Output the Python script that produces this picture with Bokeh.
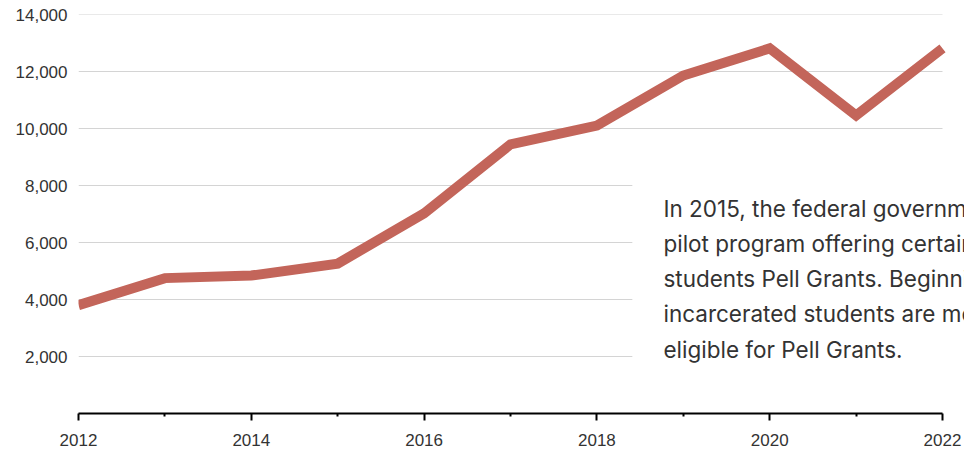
from bokeh.plotting import figure
from bokeh.models import (FixedTicker, NumeralTickFormatter, Label, BoxAnnotation, Range1d)
from bokeh.embed import file_html
from bokeh.resources import INLINE

years = [2012, 2013, 2014, 2015, 2016, 2017, 2018, 2019, 2020, 2021, 2022]
students = [3800, 4750, 4840, 5260, 7020, 9440, 10100, 11860, 12810, 10460, 12810]
y_ticks = [2000, 4000, 6000, 8000, 10000, 12000, 14000]
x_major = [2012, 2014, 2016, 2018, 2020, 2022]
x_minor = [2013, 2015, 2017, 2019, 2021]
note_lines = [
    "In 2015, the federal government launched a",
    "pilot program offering certain incarcerated",
    "students Pell Grants. Beginning in July 2023,",
    "incarcerated students are more broadly",
    "eligible for Pell Grants.",
]

FONT = "Liberation Sans"
TXT = "#333333"
x_start, x_end = years[0], years[-1]

# frame runs past the last year so the note can run to the page edge
p = figure(frame_width=886, frame_height=399, output_backend="svg", toolbar_location=None,
           x_range=Range1d(x_start, x_end + 0.2546), y_range=Range1d(0, 14000),
           min_border_left=78, min_border_right=0, min_border_top=14, min_border_bottom=10)
p.outline_line_color = None
p.background_fill_color = "white"

# horizontal grid lines, limited to the year span
p.xgrid.grid_line_color = None
p.ygrid.grid_line_color = None
p.segment(x0=[x_start] * len(y_ticks), x1=[x_end] * len(y_ticks), y0=y_ticks, y1=y_ticks,
          line_color="#d4d4d4", line_width=1)

p.line(years, students, line_width=10, line_color="#c3655a", line_join="miter")

# y axis
p.yaxis.ticker = FixedTicker(ticks=y_ticks)
p.yaxis.formatter = NumeralTickFormatter(format="0,0")
p.yaxis.axis_line_color = None
p.yaxis.major_tick_line_color = None
p.yaxis.minor_tick_line_color = None
p.yaxis.major_tick_out = 0
p.yaxis.major_tick_in = 0
p.yaxis.major_label_standoff = 11
p.yaxis.major_label_text_font = FONT
p.yaxis.major_label_text_font_size = "17px"
p.yaxis.major_label_text_color = TXT

# x axis
p.xaxis.ticker = FixedTicker(ticks=x_major, minor_ticks=x_minor)
p.xaxis.bounds = (x_start, x_end)
p.xaxis.axis_line_color = "black"
p.xaxis.axis_line_width = 2
p.xaxis.major_tick_line_color = "black"
p.xaxis.major_tick_line_width = 2
p.xaxis.major_tick_out = 7
p.xaxis.major_tick_in = 0
p.xaxis.minor_tick_line_color = "black"
p.xaxis.minor_tick_line_width = 2
p.xaxis.minor_tick_out = 3
p.xaxis.minor_tick_in = 0
p.xaxis.major_label_standoff = 13
p.xaxis.major_label_text_font = FONT
p.xaxis.major_label_text_font_size = "17px"
p.xaxis.major_label_text_color = TXT

# white panel behind the note
p.add_layout(BoxAnnotation(left=2018.41, top=9000, bottom=1000, fill_color="white",
                           fill_alpha=1.0, line_color=None))

note_x = 2018.77
first_baseline = 7210
step = 1237
for i, t in enumerate(note_lines):
    p.add_layout(Label(x=note_x, y=first_baseline - i * step, text=t,
                       text_font="Inter", text_font_size="22.5px",
                       text_color=TXT, text_baseline="alphabetic", text_align="left"))

open("out.html", "w").write(file_html(p, INLINE))
